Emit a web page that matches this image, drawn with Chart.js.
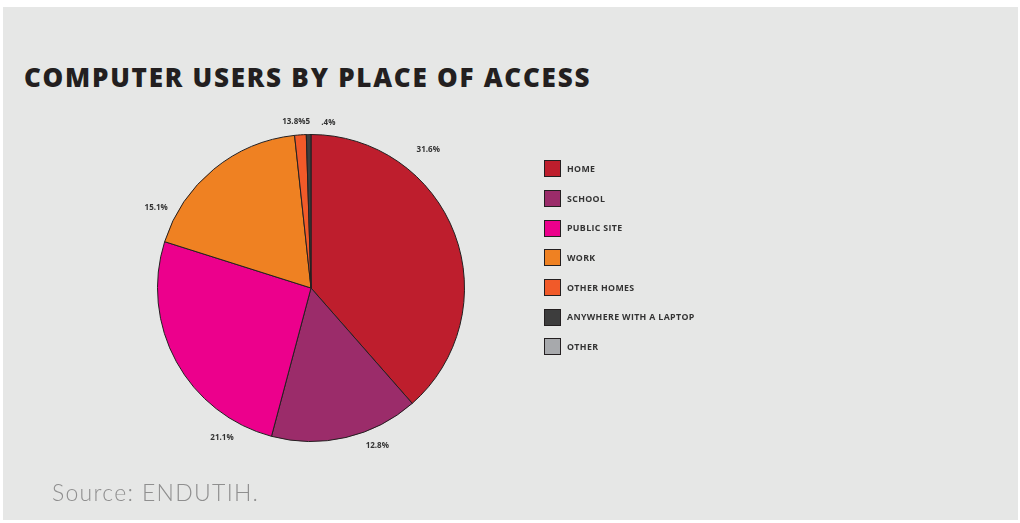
<!DOCTYPE html>
<html>
<head>
<meta charset="utf-8">
<script src="https://cdn.jsdelivr.net/npm/chart.js@4.4.1/dist/chart.umd.min.js"></script>
<style>
  html, body { margin: 0; padding: 0; background: #fff; }
  body { width: 1020px; height: 523px; position: relative; overflow: hidden; font-family: "Open Sans", sans-serif; }
  .panel { position: absolute; left: 3px; top: 7px; width: 1015px; height: 513px; background: #e6e7e6; }
  h1 { position: absolute; left: 24px; top: 59px; margin: 0; font-size: 26px; font-weight: 800; color: #231f20; letter-spacing: 1.75px; }
  .source { position: absolute; left: 52px; top: 478px; font-family: Lato, sans-serif; font-weight: 300; font-size: 23px; color: #8f8f8f; letter-spacing: 1.3px; }
  #chart { position: absolute; left: 0; top: 0; }
  #legend { position: absolute; left: 544px; top: 154px; }
  .item { display: flex; align-items: center; height: 29.7px; }
  .box { width: 15px; height: 15px; border: 1.5px solid #231f20; box-sizing: content-box; }
  .text { margin-left: 6px; font-size: 8.8px; font-weight: 700; color: #333; letter-spacing: 0.35px; }
</style>
</head>
<body>
<div class="panel"></div>
<h1>COMPUTER USERS BY PLACE OF ACCESS</h1>
<canvas id="chart" width="1020" height="523"></canvas>
<div id="legend"></div>
<div class="source">Source: ENDUTIH.</div>
<script>
// places of access and their shares
const places = ['HOME', 'SCHOOL', 'PUBLIC SITE', 'WORK', 'OTHER HOMES', 'ANYWHERE WITH A LAPTOP', 'OTHER'];
const shares = [31.6, 12.8, 21.1, 15.1, 1.0, 0.4, 0];
const shareLabels = ['31.6%', '12.8%', '21.1%', '15.1%', '13.8%5', '.4%', ''];
const colors = ['#be1e2d', '#9b2c6a', '#ec008c', '#ef8122', '#f15a29', '#3d3d3d', '#a7a9ac'];

// where each label sits: fraction along the arc, distance outside the rim
const labelSpots = [
    { t: 0.29, d: 28 },
    { t: 0.33, d: 18 },
    { t: 0.17, d: 21 },
    { t: 0.15, d: 21 },
    { t: 0.23, d: 13 },
    { t: 4.4, d: 13 },
    { t: 0.5, d: 13 }
];

const outsideLabels = {
    id: 'outsideLabels',
    afterDatasetsDraw(chart) {
        const ctx = chart.ctx;
        const arcs = chart.getDatasetMeta(0).data;
        ctx.save();
        ctx.font = '700 8px "Open Sans"';
        ctx.fillStyle = '#333';
        ctx.textAlign = 'center';
        ctx.textBaseline = 'middle';
        arcs.forEach((arc, i) => {
            const txt = shareLabels[i];
            if (!txt) return;
            const spot = labelSpots[i];
            const a = arc.startAngle + spot.t * (arc.endAngle - arc.startAngle);
            const r = arc.outerRadius + spot.d;
            ctx.fillText(txt, arc.x + Math.cos(a) * r, arc.y + Math.sin(a) * r);
        });
        ctx.restore();
    }
};

new Chart(document.getElementById('chart'), {
    type: 'pie',
    data: {
        labels: places,
        datasets: [{
            data: shares,
            backgroundColor: colors,
            borderColor: '#231f20',
            borderWidth: 1,
            hoverOffset: 0
        }]
    },
    options: {
        responsive: false,
        animation: false,
        devicePixelRatio: 1,
        layout: { padding: { left: 157, right: 555, top: 134, bottom: 81 } },
        plugins: {
            legend: { display: false },
            tooltip: { enabled: false }
        }
    },
    plugins: [outsideLabels]
});

const legend = document.getElementById('legend');
places.forEach((p, i) => {
    const row = document.createElement('div');
    row.className = 'item';
    row.innerHTML = `<div class="box" style="background:${colors[i]}"></div><div class="text">${p}</div>`;
    legend.appendChild(row);
});
</script>
</body>
</html>
